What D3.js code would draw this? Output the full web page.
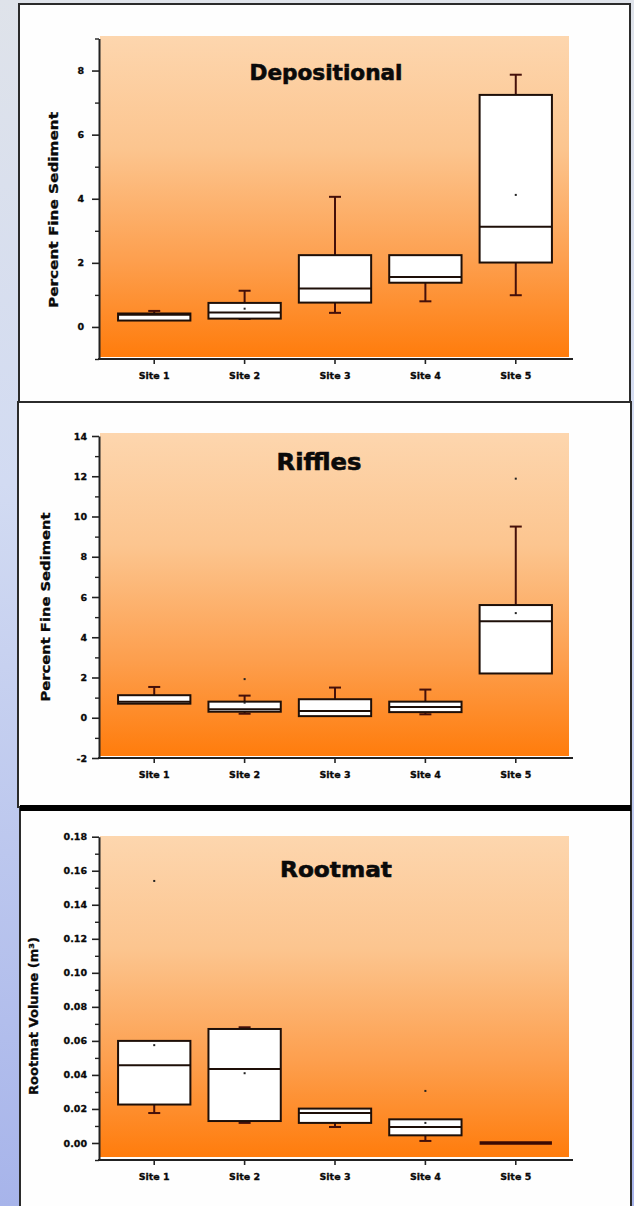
<!DOCTYPE html>
<html>
<head>
<meta charset="utf-8">
<script src="https://cdn.jsdelivr.net/npm/d3@7"></script>
<style>
  body { margin: 0; background: #d8dde8; }
  svg { display: block; }
  text { font-family: "DejaVu Sans", sans-serif; font-weight: bold; fill: #0a0a0a; }
</style>
</head>
<body>
<script>
// Categories shared by all three panels
const sites = ["Site 1", "Site 2", "Site 3", "Site 4", "Site 5"];

// Depositional — percent fine sediment
const depMin  = [0.20, 0.25, 0.44, 0.80, 0.99];
const depQ1   = [0.20, 0.26, 0.76, 1.38, 2.01];
const depMed  = [0.38, 0.45, 1.20, 1.56, 3.13];
const depQ3   = [0.42, 0.75, 2.24, 2.24, 7.24];
const depMax  = [0.50, 1.13, 4.06, 2.24, 7.87];
const depMean = [null, 0.57, null, null, 4.12];
const depOut  = [[], [], [], [], []];
const depTicks = [0, 2, 4, 6, 8];
const depMinor = [-1, 1, 3, 5, 7, 9];

// Riffles — percent fine sediment
const rifMin  = [0.70, 0.20, 0.08, 0.17, 2.20];
const rifQ1   = [0.70, 0.30, 0.08, 0.28, 2.20];
const rifMed  = [0.80, 0.42, 0.33, 0.53, 4.80];
const rifQ3   = [1.12, 0.80, 0.92, 0.80, 5.60];
const rifMax  = [1.53, 1.10, 1.50, 1.40, 9.50];
const rifMean = [null, 0.75, null, null, 5.20];
const rifOut  = [[], [1.92], [], [], [11.88]];
const rifTicks = [-2, 0, 2, 4, 6, 8, 10, 12, 14];
const rifMinor = [-1, 1, 3, 5, 7, 9, 11, 13];

// Rootmat — volume (m³)
const rootMin  = [0.0176, 0.0118, 0.0094, 0.0012, 0];
const rootQ1   = [0.0226, 0.0129, 0.0118, 0.0045, 0];
const rootMed  = [0.0457, 0.0435, 0.0176, 0.0094, 0];
const rootQ3   = [0.0600, 0.0670, 0.0202, 0.0139, 0];
const rootMax  = [0.0600, 0.0680, 0.0202, 0.0139, 0];
const rootMean = [0.0575, 0.0410, null, 0.0118, null];
const rootOut  = [[0.154], [], [], [0.0306], []];
const rootTicks = [0, 0.02, 0.04, 0.06, 0.08, 0.10, 0.12, 0.14, 0.16, 0.18];
const rootMinor = [-0.01, 0.01, 0.03, 0.05, 0.07, 0.09, 0.11, 0.13, 0.15, 0.17];

const W = 634, H = 1206;
const svg = d3.select("body").append("svg").attr("width", W).attr("height", H);
const defs = svg.append("defs");

const pageGrad = defs.append("linearGradient").attr("id", "page")
  .attr("x1", 0).attr("y1", 0).attr("x2", 0).attr("y2", 1);
pageGrad.append("stop").attr("offset", "0%").attr("stop-color", "#dfe3ea");
pageGrad.append("stop").attr("offset", "40%").attr("stop-color", "#d2dbf2");
pageGrad.append("stop").attr("offset", "100%").attr("stop-color", "#a7b4ea");

const plotGrad = defs.append("linearGradient").attr("id", "plotbg")
  .attr("x1", 0).attr("y1", 0).attr("x2", 0).attr("y2", 1);
plotGrad.append("stop").attr("offset", "0%").attr("stop-color", "#fdd6ae");
plotGrad.append("stop").attr("offset", "35%").attr("stop-color", "#fcc58f");
plotGrad.append("stop").attr("offset", "70%").attr("stop-color", "#fd9f4e");
plotGrad.append("stop").attr("offset", "100%").attr("stop-color", "#ff7c0c");

svg.append("rect").attr("width", W).attr("height", H).attr("fill", "url(#page)");

// White panel frames
const frames = [
  { x: 19, y: 4,   w: 611, h: 398 },
  { x: 18, y: 402, w: 613, h: 405 },
  { x: 20, y: 808, w: 611, h: 430 }
];
svg.selectAll("rect.frame").data(frames).join("rect")
  .attr("class", "frame")
  .attr("x", d => d.x).attr("y", d => d.y)
  .attr("width", d => d.w).attr("height", d => d.h)
  .attr("fill", "#fefefe").attr("stroke", "#2b2b2b").attr("stroke-width", 2);
svg.append("line").attr("x1", 20).attr("x2", 631).attr("y1", 808).attr("y2", 808)
  .attr("stroke", "#000").attr("stroke-width", 6);

const boxStroke = "#1e0f08";
const whiskColor = "#45100a";

// integer labels with a plain hyphen for negatives
const intFmt = d => String(d);

function panel(cfg) {
  const g = svg.append("g");
  const x = d3.scaleBand().domain(sites).range([100, 570]).padding(0.2);
  const y = d3.scaleLinear().domain(cfg.domain).range(cfg.range);

  // plot background
  g.append("rect")
    .attr("x", 100).attr("y", cfg.bgTop)
    .attr("width", 469).attr("height", cfg.bgBottom - cfg.bgTop)
    .attr("fill", "url(#plotbg)");

  // title
  g.append("text")
    .attr("x", cfg.titleX).attr("y", cfg.titleY)
    .attr("text-anchor", "middle")
    .attr("font-size", cfg.titleSize)
    .attr("textLength", cfg.titleLen).attr("lengthAdjust", "spacingAndGlyphs")
    .attr("stroke", "#0a0a0a").attr("stroke-width", 0.6)
    .text(cfg.title);

  // y axis title
  g.append("text")
    .attr("transform", `translate(${cfg.ylabX},${cfg.ylabY}) rotate(-90)`)
    .attr("text-anchor", "middle").attr("dominant-baseline", "central")
    .attr("font-size", 12.5)
    .attr("textLength", cfg.ylabLen).attr("lengthAdjust", "spacingAndGlyphs")
    .attr("stroke", "#0a0a0a").attr("stroke-width", 0.3)
    .text(cfg.ylabel);

  // y axis: major + minor ticks
  const yAxis = g.append("g").attr("transform", "translate(99,0)")
    .call(d3.axisLeft(y).tickValues(cfg.ticks).tickSize(7).tickSizeOuter(0)
      .tickPadding(cfg.tickPad).tickFormat(cfg.fmt));
  yAxis.select(".domain").attr("stroke", "#222").attr("stroke-width", 2);
  yAxis.selectAll(".tick line").attr("stroke", "#222").attr("stroke-width", 1.6);
  yAxis.selectAll(".tick text")
    .style("font-family", "'DejaVu Sans', sans-serif").style("font-weight", "bold")
    .attr("font-size", 9.5).attr("fill", "#0a0a0a")
    .attr("stroke", "#0a0a0a").attr("stroke-width", 0.3);
  const yMinor = g.append("g").attr("transform", "translate(99,0)")
    .call(d3.axisLeft(y).tickValues(cfg.minor).tickSize(4).tickSizeOuter(0).tickFormat(""));
  yMinor.select(".domain").remove();
  yMinor.selectAll(".tick line").attr("stroke", "#222").attr("stroke-width", 1.4);

  // x axis
  const axisY = cfg.range[0];
  const xAxis = g.append("g").attr("transform", `translate(0,${axisY})`)
    .call(d3.axisBottom(x).tickSize(5).tickSizeOuter(0).tickPadding(8));
  xAxis.select(".domain").remove();
  g.append("line").attr("x1", 98).attr("x2", 573).attr("y1", axisY).attr("y2", axisY)
    .attr("stroke", "#222").attr("stroke-width", 2);
  xAxis.selectAll(".tick line").attr("stroke", "#222").attr("stroke-width", 1.6);
  xAxis.selectAll(".tick text")
    .style("font-family", "'DejaVu Sans', sans-serif").style("font-weight", "bold")
    .attr("font-size", 9.5).attr("fill", "#0a0a0a")
    .attr("stroke", "#0a0a0a").attr("stroke-width", 0.3);

  // boxes
  const rows = sites.map((s, i) => ({
    s, min: cfg.min[i], q1: cfg.q1[i], med: cfg.med[i], q3: cfg.q3[i],
    max: cfg.max[i], mean: cfg.mean[i], out: cfg.out[i]
  }));
  const bw = x.bandwidth();
  const cap = 6;
  rows.forEach(r => {
    const cx = x(r.s) + bw / 2;
    const gb = g.append("g");
    if (r.max > r.q3) {
      gb.append("line").attr("x1", cx).attr("x2", cx).attr("y1", y(r.q3)).attr("y2", y(r.max))
        .attr("stroke", whiskColor).attr("stroke-width", 2);
      gb.append("line").attr("x1", cx - cap).attr("x2", cx + cap).attr("y1", y(r.max)).attr("y2", y(r.max))
        .attr("stroke", whiskColor).attr("stroke-width", 2);
    }
    if (r.min < r.q1) {
      gb.append("line").attr("x1", cx).attr("x2", cx).attr("y1", y(r.q1)).attr("y2", y(r.min))
        .attr("stroke", whiskColor).attr("stroke-width", 2);
      gb.append("line").attr("x1", cx - cap).attr("x2", cx + cap).attr("y1", y(r.min)).attr("y2", y(r.min))
        .attr("stroke", whiskColor).attr("stroke-width", 2);
    }
    if (r.q3 > r.q1) {
      gb.append("rect")
        .attr("x", x(r.s)).attr("y", y(r.q3))
        .attr("width", bw).attr("height", y(r.q1) - y(r.q3))
        .attr("fill", "#fff").attr("stroke", boxStroke).attr("stroke-width", 2);
      gb.append("line").attr("x1", x(r.s)).attr("x2", x(r.s) + bw)
        .attr("y1", y(r.med)).attr("y2", y(r.med))
        .attr("stroke", boxStroke).attr("stroke-width", 2);
    } else {
      gb.append("line").attr("x1", x(r.s)).attr("x2", x(r.s) + bw)
        .attr("y1", y(r.med)).attr("y2", y(r.med))
        .attr("stroke", "#3a0a04").attr("stroke-width", 3.5);
    }
    if (r.mean != null) {
      gb.append("rect").attr("x", cx - 1).attr("y", y(r.mean) - 1)
        .attr("width", 2).attr("height", 2).attr("fill", "#222");
    }
    r.out.forEach(v => {
      gb.append("rect").attr("x", cx - 1).attr("y", y(v) - 1)
        .attr("width", 2).attr("height", 2).attr("fill", "#222");
    });
  });
}

panel({
  title: "Depositional", titleX: 326, titleY: 80, titleSize: 21, titleLen: 153,
  ylabel: "Percent Fine Sediment", ylabX: 53, ylabY: 210, ylabLen: 196,
  domain: [-1, 9], range: [359, 38.5], bgTop: 36, bgBottom: 357,
  ticks: depTicks, minor: depMinor, tickPad: 8, fmt: intFmt,
  min: depMin, q1: depQ1, med: depMed, q3: depQ3, max: depMax, mean: depMean, out: depOut
});

panel({
  title: "Riffles", titleX: 319, titleY: 470, titleSize: 23, titleLen: 85,
  ylabel: "Percent Fine Sediment", ylabX: 45, ylabY: 607, ylabLen: 189,
  domain: [-2, 14], range: [758, 436], bgTop: 433, bgBottom: 756,
  ticks: rifTicks, minor: rifMinor, tickPad: 5, fmt: intFmt,
  min: rifMin, q1: rifQ1, med: rifMed, q3: rifQ3, max: rifMax, mean: rifMean, out: rifOut
});

panel({
  title: "Rootmat", titleX: 336, titleY: 877, titleSize: 22, titleLen: 112,
  ylabel: "Rootmat Volume (m³)", ylabX: 33, ylabY: 1016, ylabLen: 158,
  domain: [-0.01, 0.18], range: [1160, 836.7], bgTop: 836, bgBottom: 1157,
  ticks: rootTicks, minor: rootMinor, tickPad: 5, fmt: d3.format(".2f"),
  min: rootMin, q1: rootQ1, med: rootMed, q3: rootQ3, max: rootMax, mean: rootMean, out: rootOut
});
</script>
</body>
</html>
